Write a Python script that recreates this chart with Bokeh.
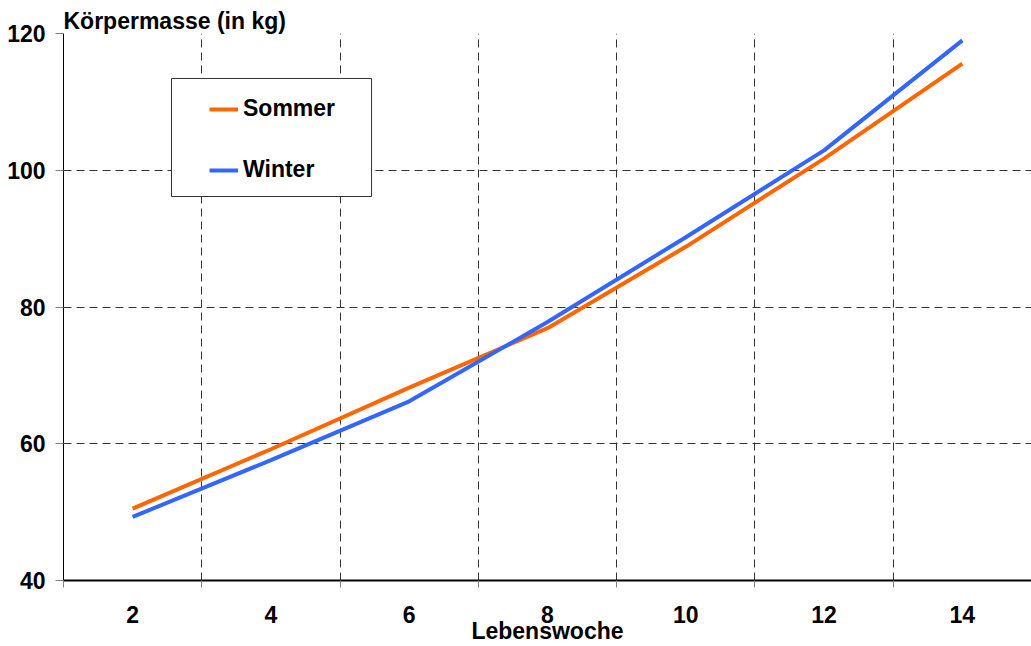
from bokeh.plotting import figure
from bokeh.models import (Range1d, FixedTicker, BoxAnnotation, Legend, LegendItem)
from bokeh.embed import file_html
from bokeh.resources import INLINE

# --- data ---
weeks = [2, 4, 6, 8, 10, 12, 14]
week_labels = ["2", "4", "6", "8", "10", "12", "14"]
sommer = [50.5, 59.2, 68.2, 76.9, 88.8, 101.7, 115.6]
winter = [49.3, 57.6, 66.2, 77.8, 90.2, 102.9, 119.0]
y_ticks = [40, 60, 80, 100, 120]

FONT = "Liberation Sans"
FS = "23px"

p = figure(width=1031, height=646, output_backend="svg", toolbar_location=None,
           x_range=Range1d(1, 15), y_range=Range1d(40, 120),
           min_border_left=63, min_border_right=0, min_border_top=33, min_border_bottom=66)
p.outline_line_color = None
p.background_fill_color = "white"
p.border_fill_color = "white"

# title (y axis caption)
p.title.text = "Körpermasse (in kg)"
p.title.align = "left"
p.title.text_font = FONT
p.title.text_font_size = FS
p.title.text_font_style = "bold"
p.title.text_color = "black"
p.title.standoff = 0
p.title.vertical_align = "bottom"

# category boundaries derived from data
bounds = [w - 1 for w in weeks] + [weeks[-1] + 1]

# x axis
xa = p.xaxis[0]
xa.ticker = FixedTicker(ticks=weeks, minor_ticks=bounds)
xa.major_label_overrides = {w: l for w, l in zip(weeks, week_labels)}
xa.major_tick_line_color = None
xa.major_tick_out = 7
xa.major_tick_in = 0
xa.minor_tick_out = 7
xa.minor_tick_in = 0
xa.minor_tick_line_color = "#808080"
xa.axis_line_color = "black"
xa.axis_line_width = 2
xa.major_label_text_font = FONT
xa.major_label_text_font_size = FS
xa.major_label_text_font_style = "bold"
xa.major_label_text_color = "black"
xa.major_label_standoff = 18
xa.axis_label = "Lebenswoche"
xa.axis_label_text_font = FONT
xa.axis_label_text_font_size = FS
xa.axis_label_text_font_style = "bold"
xa.axis_label_text_color = "black"
xa.axis_label_standoff = -8

# y axis
ya = p.yaxis[0]
ya.ticker = FixedTicker(ticks=y_ticks)
ya.minor_tick_line_color = None
ya.major_tick_out = 8
ya.major_tick_in = 0
ya.major_tick_line_color = "#808080"
ya.axis_line_color = "black"
ya.axis_line_width = 1
ya.major_label_text_font = FONT
ya.major_label_text_font_size = FS
ya.major_label_text_font_style = "bold"
ya.major_label_text_color = "black"
ya.major_label_standoff = 10

# grids
p.xgrid.ticker = FixedTicker(ticks=bounds[1:-1])
p.ygrid.ticker = FixedTicker(ticks=y_ticks[1:])
for g in (p.xgrid[0], p.ygrid[0]):
    g.grid_line_color = "#333333"
    g.grid_line_width = 1
    g.grid_line_dash = "8 5"

# lines
r_s = p.line(weeks, sommer, line_color="#FF6600", line_width=4)
r_w = p.line(weeks, winter, line_color="#3366FF", line_width=4)

# legend box
box = BoxAnnotation(left=2.562, right=5.455, top=113.42, bottom=96.16,
                    fill_color="white", fill_alpha=1.0,
                    line_color="#333333", line_alpha=1.0, line_width=1)
p.add_layout(box)

legend = Legend(items=[LegendItem(label="Sommer", renderers=[r_s]),
                       LegendItem(label="Winter", renderers=[r_w])],
                location=(146, 397), padding=0, spacing=34,
                glyph_width=29, glyph_height=26, label_height=26, label_standoff=5,
                label_text_font=FONT, label_text_font_size=FS,
                label_text_font_style="bold", label_text_color="black",
                background_fill_alpha=0, border_line_color=None, margin=0)
p.add_layout(legend)

open("out.html", "w").write(file_html(p, INLINE))
